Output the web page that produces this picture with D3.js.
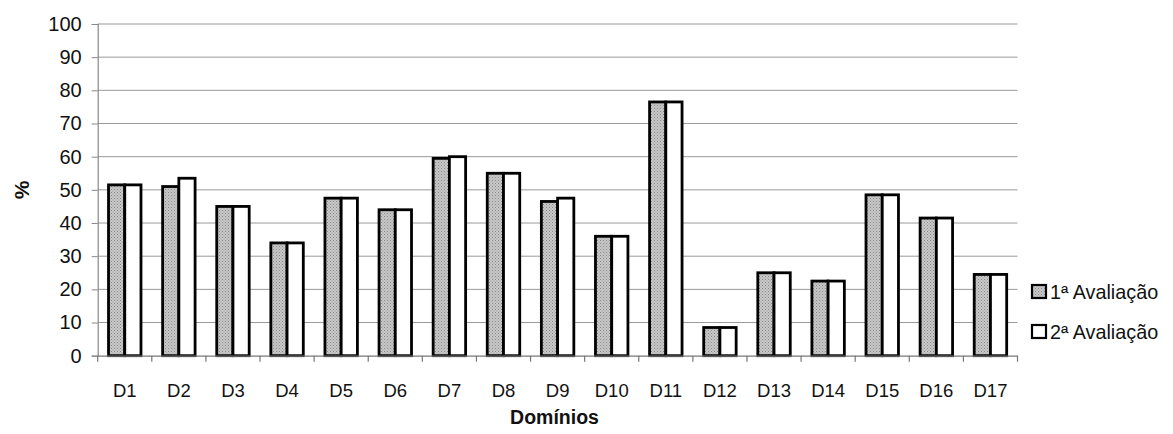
<!DOCTYPE html>
<html><head><meta charset="utf-8">
<script src="https://cdn.jsdelivr.net/npm/d3@7"></script>
<style>body{margin:0;background:#fff}svg{display:block}text{font-family:"Liberation Sans",Arial,sans-serif;fill:#111}</style>
</head><body><svg id="c" width="1173" height="434"></svg>
<script>
const categories = ["D1","D2","D3","D4","D5","D6","D7","D8","D9","D10","D11","D12","D13","D14","D15","D16","D17"];
const aval1 = [51.5,51,45,34,47.5,44,59.5,55,46.5,36,76.5,8.5,25,22.5,48.5,41.5,24.5];
const aval2 = [51.5,53.5,45,34,47.5,44,60,55,47.5,36,76.5,8.5,25,22.5,48.5,41.5,24.5];
const seriesNames = ["1ª Avaliação","2ª Avaliação"];
const yTicks = [0,10,20,30,40,50,60,70,80,90,100];

const svg = d3.select("#c");
const L = 97.7, R = 1017.5, T = 24, B = 355.7;
const defs = svg.append("defs");
const pat = defs.append("pattern").attr("id","dots").attr("width",3).attr("height",3).attr("patternUnits","userSpaceOnUse");
pat.append("rect").attr("width",3).attr("height",3).attr("fill","#c8c8c8");
pat.append("rect").attr("width",1).attr("height",1).attr("fill","#888");
pat.append("rect").attr("x",1.5).attr("y",1.5).attr("width",1).attr("height",1).attr("fill","#999");

const x = d3.scaleBand().domain(categories).range([L,R]).paddingInner(0.4).paddingOuter(0.2);
const xb = d3.scaleBand().domain(categories).range([L,R]);
const y = d3.scaleLinear().domain([0,100]).range([B,T]);
const xs = d3.scaleBand().domain([0,1]).range([0,x.bandwidth()]);

// gridlines
svg.append("g").selectAll("line").data(yTicks.filter(d=>d>0)).join("line")
  .attr("x1",L).attr("x2",R).attr("y1",d=>y(d)).attr("y2",d=>y(d))
  .attr("stroke","#9a9a9a").attr("stroke-width",1);

// y axis
const ya = svg.append("g").attr("transform",`translate(${L},0)`)
  .call(d3.axisLeft(y).tickValues(yTicks).tickSize(6).tickPadding(10));
ya.select(".domain").attr("stroke","#888").attr("stroke-width",1.2);
ya.selectAll(".tick line").attr("stroke","#888");
ya.selectAll("text").attr("font-size",20).attr("fill","#111");

// bars
const data = [aval1, aval2];
data.forEach((vals,si)=>{
  svg.append("g").selectAll("rect").data(categories).join("rect")
    .attr("x",(c)=>x(c)+xs(si))
    .attr("y",(c,i)=>y(vals[i]))
    .attr("width",xs.bandwidth())
    .attr("height",(c,i)=>B-y(vals[i]))
    .attr("fill", si===0 ? "url(#dots)" : "#fff")
    .attr("stroke","#000").attr("stroke-width",2.8);
});

// x axis
const xa = svg.append("g").attr("transform",`translate(0,${B})`)
  .call(d3.axisBottom(xb).tickSize(0).tickPadding(28));
xa.select(".domain").attr("stroke","#777").attr("stroke-width",1.2);
xa.selectAll("text").attr("font-size",18.5).attr("fill","#111");
svg.append("g").selectAll("line").data(d3.range(categories.length+1)).join("line")
  .attr("x1",i=>L+i*xb.step()).attr("x2",i=>L+i*xb.step())
  .attr("y1",B).attr("y2",B+6).attr("stroke","#777").attr("stroke-width",1.2);

// axis titles
svg.append("text").attr("x",554.5).attr("y",424).attr("text-anchor","middle")
  .attr("font-size",19.5).attr("font-weight","bold").text("Domínios");
svg.append("text").attr("transform","translate(29,190) rotate(-90)").attr("text-anchor","middle")
  .attr("font-size",21).attr("font-weight","bold").text("%");

// legend
const lg = svg.append("g");
seriesNames.forEach((n,i)=>{
  const yy = 285 + i*40;
  lg.append("rect").attr("x",1032).attr("y",yy).attr("width",14).attr("height",13)
    .attr("fill", i===0 ? "url(#dots)" : "#fff").attr("stroke","#000").attr("stroke-width",2.2);
  lg.append("text").attr("x",1050).attr("y",yy+14).attr("font-size",19.8).text(n);
});
</script></body></html>
